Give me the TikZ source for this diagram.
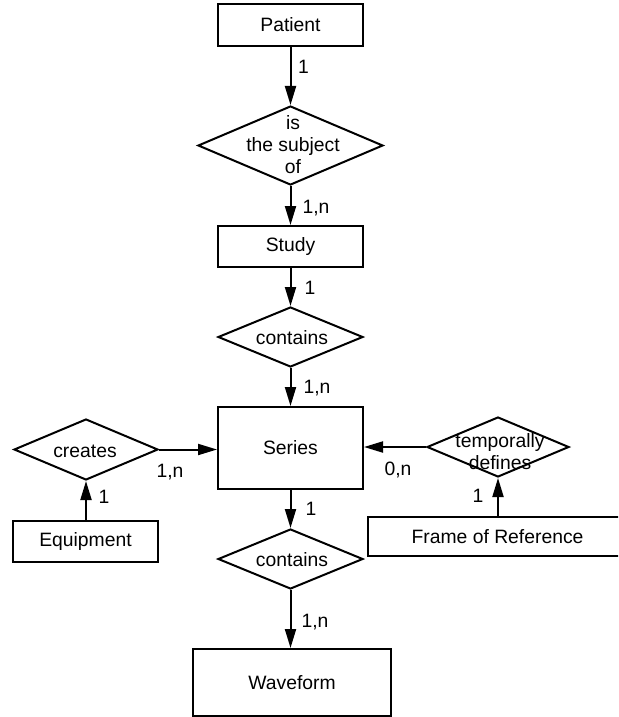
\documentclass[tikz,border=0pt]{standalone}
\usepackage{fontspec}
\setmainfont{Liberation Sans}
\usetikzlibrary{shapes.geometric,arrows.meta}
\begin{document}
\begin{tikzpicture}[x=0.75pt,y=-0.75pt,
  font=\fontsize{14.5}{16.5}\selectfont,
  ent/.style={draw,line width=1.5pt,rectangle,inner sep=0pt},
  rel/.style={draw,line width=1.5pt,diamond,inner sep=0pt},
  reltext/.style={align=center,inner sep=0pt},
  card/.style={inner sep=0pt,text depth=0pt},
  link/.style={line width=1.5pt,-{Triangle[length=14.25pt,width=8.25pt]}}]
\useasboundingbox (0,0) rectangle (618,717);
\clip (0,0) rectangle (618,717);
% entities and relationships
\node[ent, minimum width=108.75pt, minimum height=31.5pt] (patient) at (290.5,25) {Patient};
\node[rel, minimum width=138.75pt, minimum height=59.25pt] (subj) at (290.5,145.5) {};
\node[reltext] (subjt) at (293,145) {is\\the subject\\of};
\node[ent, minimum width=108.75pt, minimum height=30.75pt] (study) at (290.5,246.5) {Study};
\node[rel, minimum width=108.75pt, minimum height=45pt] (cont1) at (290.5,337) {};
\node[reltext] (cont1t) at (292,338) {contains};
\node[ent, minimum width=108.75pt, minimum height=61.5pt] (series) at (290.5,448) {Series};
\node[rel, minimum width=108.75pt, minimum height=45pt] (cont2) at (290.5,559) {};
\node[reltext] (cont2t) at (292,560) {contains};
\node[ent, minimum width=148.5pt, minimum height=50.25pt] (wave) at (292,682.5) {Waveform};
\node[rel, minimum width=108pt, minimum height=45.75pt] (creates) at (86,449.5) {};
\node[reltext] (createst) at (85,451) {creates};
\node[ent, minimum width=108.75pt, minimum height=30.75pt] (equip) at (85.5,541.5) {Equipment};
\node[rel, minimum width=106.5pt, minimum height=45pt] (temp) at (498,447) {};
\node[reltext] (tempt) at (500,452) {temporally\\defines};
\node[ent, minimum width=194.25pt, minimum height=29.25pt] (frame) at (497.5,536.5) {Frame of Reference};
% connectors
\draw[link] (patient.south) -- (subj.north);
\draw[link] (subj.south) -- (study.north);
\draw[link] (study.south) -- (cont1.north);
\draw[link] (cont1.south) -- (series.north);
\draw[link] (series.south) -- (cont2.north);
\draw[link] (cont2.south) -- (cont2.south |- wave.north);
\draw[link] (creates.east) -- (creates.east -| series.west);
\draw[link] (equip.north -| creates.south) -- (creates.south);
\draw[link] (temp.west) -- (temp.west -| series.east);
\draw[link] (frame.north -| temp.south) -- (temp.south);
% cardinalities
\node[card] (c1) at (303.5,67) {1};
\node[card] (c2) at (316,207) {1,n};
\node[card] (c3) at (310,288) {1};
\node[card] (c4) at (317,387) {1,n};
\node[card] (c5) at (311,509) {1};
\node[card] (c6) at (315,621) {1,n};
\node[card] (c7) at (170,471) {1,n};
\node[card] (c8) at (104,497) {1};
\node[card] (c9) at (398,469) {0,n};
\node[card] (c10) at (478,496) {1};
\end{tikzpicture}
\end{document}
